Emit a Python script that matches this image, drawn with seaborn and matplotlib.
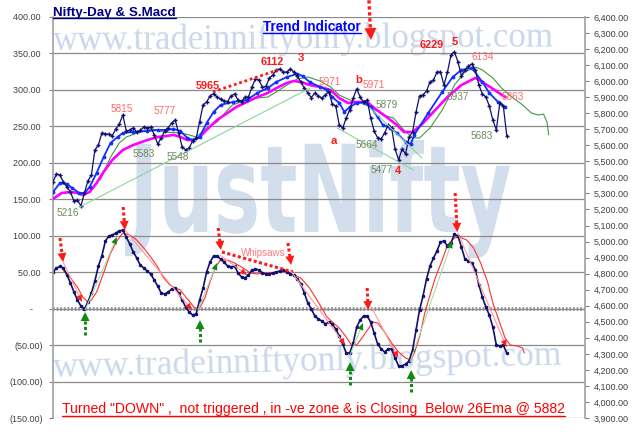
import numpy as np
import pandas as pd
import matplotlib
matplotlib.use("Agg")
import matplotlib.pyplot as plt
import seaborn as sns
from matplotlib.ticker import FuncFormatter
from matplotlib.textpath import TextPath
from matplotlib.patches import PathPatch, Polygon
from matplotlib.font_manager import FontProperties
from matplotlib.transforms import Affine2D, IdentityTransform
from matplotlib.lines import Line2D

# ---- price (right axis) ----
close = [5372, 5421, 5415, 5369, 5340, 5309, 5253, 5259, 5222, 5303,
         5378, 5415, 5571, 5602, 5677, 5671, 5668, 5661, 5702, 5733,
         5789, 5689, 5696, 5708, 5683, 5693, 5714, 5708, 5714, 5665,
         5608, 5646, 5689, 5711, 5739, 5758, 5677, 5590, 5571, 5584,
         5627, 5643, 5746, 5852, 5870, 5908, 5923, 5901, 5889, 5876,
         5873, 5908, 5920, 5883, 5873, 5901, 5901, 5964, 6014, 6007,
         5961, 5967, 6020, 6039, 6070, 6076, 6057, 6057, 6076, 6057,
         6032, 5995, 5957, 5926, 5898, 5926, 5908, 5895, 5914, 5933,
         5858, 5845, 5727, 5708, 5771, 5820, 5895, 5951, 5901, 5870,
         5883, 5771, 5689, 5646, 5640, 5677, 5727, 5708, 5577, 5509,
         5577, 5546, 5652, 5683, 5808, 5908, 5914, 5939, 5995, 6007,
         6057, 6057, 5976, 6057, 6163, 6182, 6120, 6032, 6070, 6095,
         6107, 6070, 5976, 5920, 5901, 5845, 5758, 5696, 5864, 5845,
         5658]

ema_fast_days = [0, 2, 4, 5.5, 7.5, 9, 10.5, 12.5, 14.5, 16.5,
                 18.5, 20, 23, 27, 30, 32.5, 34.5, 36.5, 38.5, 40,
                 42, 44, 46, 48, 51.5, 55.5, 58.5, 61.5, 64, 67,
                 70, 71.5, 73.5, 76.5, 78.5, 80, 82, 83.5, 85, 87,
                 89, 91, 93, 94.5, 96.5, 98.5, 101, 102.5, 103.5, 107.5,
                 111.5, 114.5, 117, 120, 123, 125, 127.5, 129.5]
ema_fast = [5309, 5365, 5359, 5334, 5303, 5303, 5340, 5428, 5527, 5615,
            5652, 5677, 5683, 5689, 5696, 5696, 5702, 5689, 5646, 5633,
            5652, 5739, 5808, 5852, 5870, 5883, 5926, 5957, 5995, 6026,
            6045, 6032, 5995, 5964, 5945, 5901, 5864, 5808, 5839, 5864,
            5870, 5839, 5777, 5727, 5708, 5677, 5621, 5609, 5665, 5802,
            5933, 6026, 6070, 6082, 5995, 5926, 5870, 5839]

ema26_days = [0, 2.5, 5, 7, 8.5, 10.5, 12.5, 14.5, 17, 20,
              23, 27, 30, 32.5, 34.5, 36.5, 38.5, 40, 42, 44,
              47, 50, 52.5, 55.5, 58.5, 61.5, 64, 67, 69, 71,
              73.5, 76.5, 79.5, 82, 84.5, 87, 90, 92, 95.5, 98.5,
              100.5, 103, 105.5, 109.5, 113, 117, 121, 123, 126.5, 129.5]
ema26 = [5266, 5303, 5309, 5303, 5291, 5309, 5365, 5434, 5509, 5571,
         5602, 5633, 5652, 5658, 5665, 5652, 5633, 5633, 5652, 5696,
         5758, 5802, 5839, 5870, 5901, 5926, 5957, 5989, 6001, 5995,
         5976, 5964, 5945, 5895, 5864, 5870, 5870, 5833, 5777, 5727,
         5683, 5683, 5727, 5820, 5901, 5976, 6020, 5995, 5945, 5901]

trend_days = [13.5, 16.5, 19, 21, 25, 28.5, 31.5, 36.5, 39, 41,
              44, 47, 50, 51.5, 55.5, 58.5, 61.5, 64, 67, 70,
              73, 76.5, 79.5, 82, 85, 88, 91, 94.5, 97.5, 100.5,
              103, 105, 108, 111.5, 113, 115, 118, 121, 123, 126,
              128.5, 131.5, 134.5, 137, 139, 140.5, 141.5, 142]
trend = [5384, 5527, 5615, 5652, 5683, 5702, 5683, 5677, 5665, 5652,
         5708, 5746, 5820, 5852, 5883, 5895, 5901, 5933, 5976, 6014,
         6026, 6001, 5964, 5914, 5883, 5864, 5839, 5789, 5771, 5696,
         5646, 5646, 5708, 5820, 5883, 5976, 6057, 6088, 6070, 6020,
         5957, 5901, 5852, 5802, 5789, 5795, 5746, 5665]

# ---- S.Macd (left axis) ----
macd = [50.2, 55.7, 57.8, 55.7, 46.1, 35.1, 22.8, 11.8, 3.6, -0.5,
        9.1, 21.4, 37.9, 58.4, 72.2, 92.7, 99.6, 101.0, 103.7, 106.5,
        107.8, 98.2, 88.6, 77.7, 69.4, 59.8, 55.7, 51.6, 47.5, 39.3,
        31.0, 21.4, 20.1, 22.8, 26.9, 28.3, 21.4, 11.8, 2.2, -4.6,
        -8.8, -7.4, 11.8, 28.3, 50.2, 63.9, 72.2, 72.2, 68.1, 63.9,
        58.4, 57.1, 58.4, 48.9, 43.4, 42.0, 46.1, 53.0, 54.3, 53.0,
        48.9, 47.5, 47.5, 48.9, 50.2, 51.6, 53.0, 50.2, 47.5, 46.1,
        40.6, 33.8, 21.4, 7.7, -0.5, -10.1, -14.2, -17.0, -21.1, -18.3,
        -21.1, -27.9, -37.5, -48.5, -60.9, -60.9, -47.2, -25.2, -15.6, -10.1,
        -10.1, -18.3, -33.5, -48.5, -55.4, -59.5, -55.4, -55.4, -67.7, -78.7,
        -78.7, -76.0, -71.8, -56.8, -29.3, -1.9, 17.3, 40.6, 58.4, 69.4,
        79.0, 91.4, 92.7, 85.9, 90.0, 102.3, 99.6, 84.5, 68.1, 65.3,
        62.6, 53.0, 32.4, 15.9, 2.2, -8.8, -25.2, -49.9, -51.3, -49.9,
        -60.9]

signal_days = [3, 5, 7, 8.5, 10, 11, 12.5, 14.5, 16.5, 18.5,
               20, 22, 24, 26, 28, 30, 31.5, 33.5, 35, 36.5,
               38, 39.5, 40.5, 42, 43.5, 45, 46.5, 48, 50, 52,
               54.5, 56.5, 58.5, 60, 62, 64, 66, 68, 71, 73.5,
               76.5, 78.5, 80, 82, 84, 85.5, 87, 88.5, 90.5, 91.5,
               93, 95, 97, 99, 101, 102.5, 103.5, 105, 106.5, 108,
               109.5, 111.5, 113, 115, 116.5, 118.5, 120.5, 122.5, 124.5, 126,
               128, 129.5, 131, 133, 134.5, 135]
signal = [52.0, 42.0, 29.6, 16.0, 9.1, 11.8, 22.8, 48.9, 76.3, 94.1,
          103.7, 101.0, 94.1, 83.1, 70.8, 57.1, 43.4, 32.4, 28.3, 25.5,
          16.0, 7.7, 0.8, 0.8, 14.6, 36.5, 57.1, 66.7, 66.7, 62.6,
          55.7, 48.9, 47.5, 48.9, 48.9, 50.2, 51.6, 48.9, 42.0, 28.3,
          5.0, -11.5, -18.3, -26.6, -38.9, -49.9, -49.9, -40.3, -26.6, -18.3,
          -19.7, -32.1, -47.2, -59.5, -67.7, -70.5, -60.9, -38.9, -6.0, 18.7,
          42.0, 66.7, 87.3, 96.9, 98.2, 94.1, 83.1, 62.6, 36.5, 7.7,
          -19.7, -40.3, -49.9, -51.3, -54.0, -60.9]

# sell / buy swings on the macd (day, value) -> (day, value)
sell_swings = [((2.9, 63.9), (8.3, 9.1)), ((20.6, 107.8), (39.8, -1.9)),
               ((47.9, 73.5), (55.6, 46.1)), ((67.9, 53.0), (83.7, -49.9)),
               ((91.3, 1.3), (98.9, -67.7)), ((116.0, 103.7), (129.9, -52.6))]
buy_swings = [((9.2, -1.9), (18.3, 98.2)), ((41.5, -1.9), (47.0, 62.6)),
              ((85.1, -63.6), (88.8, -19.7)), ((102.3, -73.2), (114.3, 92.7))]
sell_marks = [((2.0, 96.9), (2.9, 63.9)), ((20.1, 139.4), (20.6, 107.8)),
              ((47.3, 110.6), (48.1, 80.4)), ((67.3, 90.0), (68.2, 59.8)),
              ((90.0, 28.3), (90.3, -1.9)), ((115.2, 158.6), (115.8, 105.1))]
buy_marks = [((9.2, -36.2), (9.2, -4.6)), ((42.1, -45.8), (42.1, -15.6)),
             ((85.1, -104.8), (85.1, -73.2)), ((102.6, -114.4), (102.6, -84.2))]
whipsaw = [(48.4, 77.7), (68.8, 50.2)]

# price trend lines (day, price)
support_line = [(7.7, 5216), (73.6, 5957)]
wedge_low = [(81.4, 5708), (103.2, 5446)]
wedge_high = [(90.8, 5833), (105.7, 5521)]
top_line = [(45.8, 5933), (64.5, 6070)]

# label, day, price, kind
price_labels = [("5216", 4.3, 5178, "lo"), ("5815", 19.8, 5827, "hi"),
                ("5777", 32.1, 5814, "hi"), ("5583", 26.1, 5546, "lo"),
                ("5548", 35.8, 5527, "lo"), ("5965", 44.4, 5970, "key"),
                ("6112", 62.8, 6120, "key"), ("3", 71.1, 6146, "wave"),
                ("5971", 79.4, 5995, "hi"), ("b", 87.7, 6007, "wave"),
                ("5971", 91.8, 5976, "hi"), ("5879", 95.7, 5852, "lo"),
                ("5664", 90.0, 5602, "lo"), ("a", 80.5, 5627, "wave"),
                ("5477", 94.3, 5446, "lo"), ("4", 98.9, 5443, "wave"),
                ("6229", 108.4, 6226, "key"), ("5", 115.0, 6246, "wave"),
                ("6134", 123.2, 6151, "hi"), ("5937", 116.0, 5901, "lo"),
                ("5863", 131.8, 5901, "hi"), ("5683", 122.9, 5658, "lo")]

title = "Nifty-Day & S.Macd"
subtitle = "Trend Indicator"
note = 'Turned "DOWN" ,  not triggered , in -ve zone & is Closing  Below 26Ema @ 5882'
site = "www.tradeinniftyonly.blogspot.com"
brand = "JustNifty"

W, H = 640, 436

sns.set_theme(style="white")
plt.rcParams["font.family"] = ["Liberation Sans", "DejaVu Sans"]

fig = plt.figure(figsize=(W / 100, H / 100), dpi=100)
fig.patch.set_facecolor("white")
ax = fig.add_axes([53 / W, 18 / H, 532 / W, 401 / H])
ax.patch.set_visible(False)
ax2 = ax.twinx()


def fpx(x, y):
    # pixel (from top-left) -> figure fraction
    return x / W, 1 - y / H


# watermarks behind everything
wm = "#cad8ea"
fig.text(*fpx(53, 50), site, family="Liberation Serif", fontsize=25, color=wm,
         ha="left", va="baseline", rotation=0.4, rotation_mode="anchor", zorder=-5)
fig.text(*fpx(53, 377), site, family="Liberation Serif", fontsize=25.5, color=wm,
         ha="left", va="baseline", rotation=1.4, rotation_mode="anchor", zorder=-5)
tp = TextPath((0, 0), brand, size=1, prop=FontProperties(family="DejaVu Sans", weight="bold"))
ext = tp.get_extents()
tr = (Affine2D().translate(-ext.x0, 0).scale(385 / ext.width, 92 / ext.y1)
      .translate(125, H - 232).scale(0.01) + fig.dpi_scale_trans)
fig.add_artist(PathPatch(tp, transform=tr, facecolor="#d2deec", edgecolor="none", zorder=-4))

# axes setup
ax.set_xlim(0, 152.4)
ax.set_ylim(-150, 400)
ax2.set_ylim(3900, 6400)
ax.set_xticks([])
ax.set_yticks(np.arange(-150, 401, 50))
ax2.set_yticks(np.arange(3900, 6401, 100))


def left_fmt(v, _):
    if abs(v) < 1e-9:
        return "-    "
    if v < 0:
        return f"({abs(v):.2f})"
    return f"{v:.2f} "


ax.yaxis.set_major_formatter(FuncFormatter(left_fmt))
ax2.yaxis.set_major_formatter(FuncFormatter(lambda v, _: f"{v:,.2f}"))
for a, side in ((ax, "left"), (ax2, "right")):
    a.tick_params(axis="y", which="major", length=3, width=0.8, color="#808080",
                  labelsize=6.5, labelcolor="#404040", pad=4 if side == "left" else 3,
                  left=(side == "left"), right=(side == "right"))
    for s in ("top", "bottom", "left", "right"):
        a.spines[s].set_visible(s == side)
    a.spines[side].set_color("#a0a0a0")
    a.spines[side].set_linewidth(1.2)

ax.grid(axis="y", color="#8a8a8a", linewidth=0.9)
ax.axhline(0, color="#8c8c8c", linewidth=2.6, linestyle=(0, (0.5, 0.5)), zorder=1)

# price panel
days = np.arange(len(close))
price_df = pd.DataFrame({"day": days, "close": close})
sns.lineplot(data=pd.DataFrame({"day": trend_days, "v": trend}), x="day", y="v", ax=ax2,
             color="#3f9a3f", linewidth=0.8, legend=False)
sns.lineplot(data=pd.DataFrame({"day": ema26_days, "v": ema26}), x="day", y="v", ax=ax2,
             color="#ff00ff", linewidth=1.9, legend=False)
sns.lineplot(data=pd.DataFrame({"day": ema_fast_days, "v": ema_fast}), x="day", y="v", ax=ax2,
             color="#1030ff", linewidth=1.3, marker="o", markersize=2, markeredgecolor="#1030ff",
             legend=False)
sns.lineplot(data=price_df, x="day", y="close", ax=ax2, color="#101070", linewidth=0.9,
             marker="+", markersize=3.5, markeredgewidth=1.0, markeredgecolor="#101070",
             legend=False)
for seg in (support_line, wedge_low, wedge_high):
    ax2.plot(*zip(*seg), color="#8fd49a", linewidth=0.8)
ax2.plot(*zip(*top_line), color="#ff1a1a", linewidth=2.0, linestyle=(0, (1, 1)))

label_style = {"hi": dict(color="#ff6a6a", fontsize=7.2),
               "lo": dict(color="#6f8a5c", fontsize=7.2),
               "key": dict(color="#ff1a1a", fontsize=7.8, weight="bold"),
               "wave": dict(color="#ff1a1a", fontsize=8.2, weight="bold")}
for txt, d, p, kind in price_labels:
    ax2.text(d, p, txt, ha="center", va="center", **label_style[kind])

# macd panel
sns.lineplot(data=pd.DataFrame({"day": signal_days, "v": signal}), x="day", y="v", ax=ax,
             color="#ff3030", linewidth=0.8, legend=False)
sns.lineplot(data=pd.DataFrame({"day": days, "v": macd}), x="day", y="v", ax=ax,
             color="#101070", linewidth=1.2, marker="o", markersize=1.8,
             markeredgecolor="#101070", legend=False)
for a in (ax, ax2):
    a.set_xlabel("")
    a.set_ylabel("")
ax.set_xlim(0, 152.4)


def draw_arrow(axis, start, tip, line_color, head_color, lw, ls, head_len, head_w, clip=True):
    p0 = axis.transData.transform(start)
    p1 = axis.transData.transform(tip)
    d = (p1 - p0) / np.hypot(*(p1 - p0))
    n = np.array([-d[1], d[0]])
    base = p1 - d * head_len * 0.6
    end = axis.transData.inverted().transform(base)
    axis.plot([start[0], end[0]], [start[1], end[1]], color=line_color, linewidth=lw,
              linestyle=ls, clip_on=clip, solid_capstyle="butt", dash_capstyle="butt", zorder=4)
    b = p1 - d * head_len
    tri = np.array([p1, b + n * head_w / 2, b - n * head_w / 2])
    fig.add_artist(Polygon(tri, closed=True, transform=IdentityTransform(),
                           facecolor=head_color, edgecolor="none", zorder=5))


for s, t in sell_swings:
    draw_arrow(ax, s, t, "#ff9a9a", "#ff1a1a", 0.8, "-", 7, 6)
for s, t in buy_swings:
    draw_arrow(ax, s, t, "#a8dca8", "#108a10", 0.8, "-", 7, 6)
for s, t in sell_marks:
    draw_arrow(ax, s, t, "#ff1a1a", "#ff1a1a", 2.2, (0, (1, 0.8)), 9, 9)
for s, t in buy_marks:
    draw_arrow(ax, s, t, "#108a10", "#108a10", 2.2, (0, (1, 0.8)), 9, 9)
ax.plot(*zip(*whipsaw), color="#ff1a1a", linewidth=2.2, linestyle=(0, (1, 0.8)))
ax.text(60.2, 76.3, "Whipsaws", color="#ff7a7a", fontsize=7, ha="center", va="center")
# signal arrow at the top edge
draw_arrow(ax, (90.5, 423), (91.1, 368.4), "#ff1a1a", "#ff1a1a", 2.4, (0, (1, 0.8)), 12, 12,
           clip=False)

# titles and note, underlined like the sheet
renderer = fig.canvas.get_renderer()


def underlined(x, y, s, color, size, weight="normal", gap=2.0, lw=1.0):
    t = fig.text(*fpx(x, y), s, ha="left", va="baseline", color=color, fontsize=size,
                 weight=weight)
    bb = t.get_window_extent(renderer=renderer)
    yy = H - y - gap
    fig.add_artist(Line2D([bb.x0, bb.x1], [yy, yy], transform=IdentityTransform(),
                          color=color, linewidth=lw))


underlined(53, 16, title, "#000080", 9.6, "bold", gap=1.8)
underlined(263, 31, subtitle, "#0000ff", 9.8, "bold", gap=2.2)
underlined(62, 413, note, "#ff0000", 10.1, gap=2.5)

fig.savefig("out.png", dpi=100, facecolor="white")
